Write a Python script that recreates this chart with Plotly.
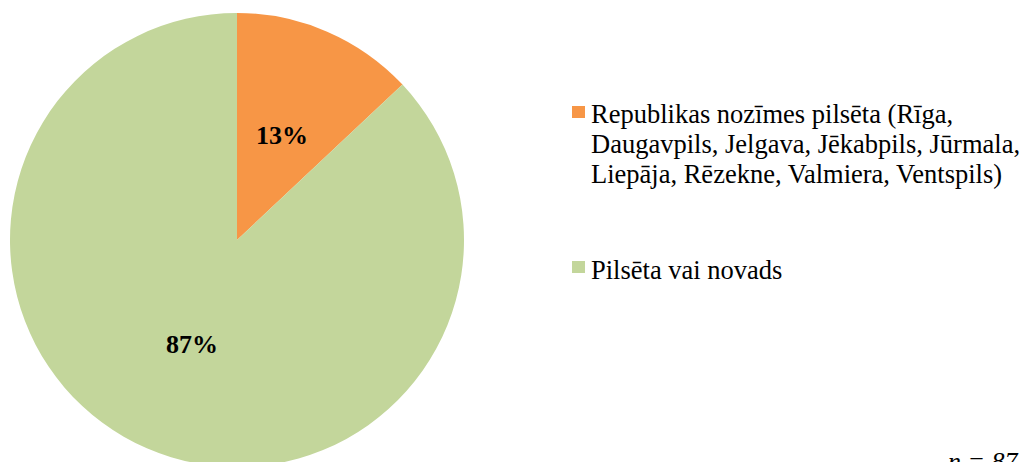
import math
import plotly.graph_objects as go

# Data
categories = [
    "Republikas nozīmes pilsēta (Rīga,<br>Daugavpils, Jelgava, Jēkabpils, Jūrmala,<br>Liepāja, Rēzekne, Valmiera, Ventspils)",
    "Pilsēta vai novads",
]
values = [13, 87]
colors = ["#F79646", "#C3D69B"]
n_label = "n = 87"

W, H = 1023, 490
SERIF = "Liberation Serif, Times New Roman, serif"
CX, CY, R = 237, 240, 227


def px_x(x):
    return x / W


def px_y(y):
    return 1 - y / H


fig = go.Figure()
fig.add_trace(go.Pie(
    labels=[c.replace("<br>", " ") for c in categories],
    values=values,
    sort=False,
    direction="clockwise",
    rotation=0,
    marker=dict(colors=colors, line=dict(width=0)),
    textinfo="none",
    domain=dict(x=[px_x(CX - R), px_x(CX + R)], y=[px_y(CY + R), px_y(CY - R)]),
    showlegend=False,
    hoverinfo="label+percent",
))

# Percentage labels at slice mid-angles
total = sum(values)
cum = 0
for v in values:
    mid = (cum + v / 2) / total * 2 * math.pi
    cum += v
    r = 0.5 * R
    x = CX + r * math.sin(mid)
    y = CY - r * math.cos(mid)
    fig.add_annotation(xref="paper", yref="paper", x=px_x(x), y=px_y(y),
                       xanchor="center", yanchor="middle",
                       text=f"<b>{round(v / total * 100)}%</b>", showarrow=False,
                       font=dict(family=SERIF, size=26, color="black"))

# Manual legend
legend_rows = [
    (categories[0].split("<br>"), 106, 114),
    (categories[1].split("<br>"), 261, 270),
]
for i, (lines, sq_top, first_center) in enumerate(legend_rows):
    fig.add_shape(type="rect", xref="paper", yref="paper",
                  x0=px_x(572), x1=px_x(585), y0=px_y(sq_top + 12), y1=px_y(sq_top),
                  fillcolor=colors[i], line=dict(width=0))
    for j, line in enumerate(lines):
        fig.add_annotation(xref="paper", yref="paper", x=px_x(589), y=px_y(first_center + 30 * j),
                           xanchor="left", yanchor="middle", text=line, showarrow=False,
                           font=dict(family=SERIF, size=26.5, color="black"))

fig.add_annotation(xref="paper", yref="paper", x=px_x(1021), y=px_y(461),
                   xanchor="right", yanchor="middle", text="<i>" + n_label + "</i>", showarrow=False,
                   font=dict(family=SERIF, size=26, color="black"))

fig.update_layout(
    width=W, height=H,
    margin=dict(l=0, r=0, t=0, b=0),
    paper_bgcolor="white",
    plot_bgcolor="white",
)

fig.write_html("out.html", config={"displayModeBar": False},
               post_script="document.body.style.margin='0';document.body.style.overflow='hidden';")
